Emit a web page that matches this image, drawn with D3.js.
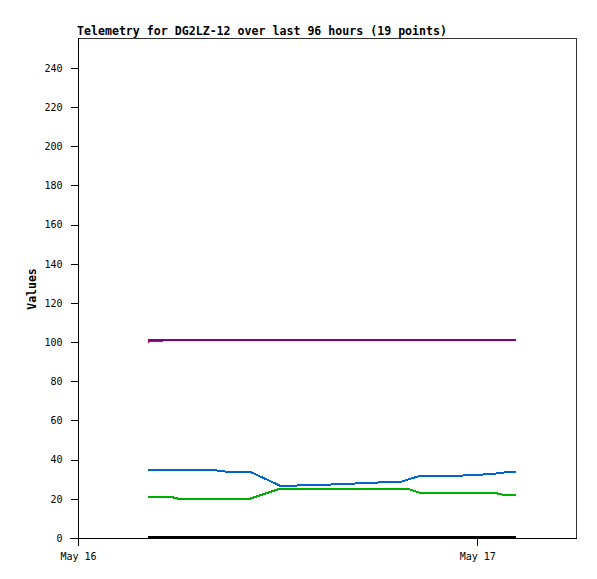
<!DOCTYPE html>
<html><head><meta charset="utf-8">
<script src="https://cdn.jsdelivr.net/npm/d3@7"></script>
<style>body{margin:0;background:#fff}svg{display:block}text{font-family:"DejaVu Sans Mono",monospace}</style>
</head><body><svg id="c" width="597" height="579"></svg>
<script>
// Hours after May 16 00:00
const hours = [4.21,5.53,6.02,8.12,8.96,10.35,12.15,13.17,14.86,16.36,17.86,19.37,19.79,20.57,22.86,24.12,25.02,25.56,26.35];
const seriesRed    = [100.3,101.1,101.1,101.1,101.1,101.1,101.1,101.1,101.1,101.1,101.1,101.1,101.1,101.1,101.1,101.1,101.1,101.1,101.1];
const seriesPurple = [101.1,101.1,101.1,101.1,101.1,101.1,101.1,101.1,101.1,101.1,101.1,101.1,101.1,101.1,101.1,101.1,101.1,101.1,101.1];
const seriesBlue   = [34.7,34.7,34.7,34.7,33.8,33.8,26.7,26.8,27.2,27.7,28.3,28.6,29.7,31.8,31.8,32.3,32.8,33.4,33.9];
const seriesGreen  = [21.1,21.1,20.1,20.1,20.1,20.1,25.2,25.2,25.2,25.2,25.2,25.2,25.2,23.1,23.1,23.1,23.1,22.1,22.1];
const seriesBlack  = [0.6,0.6,0.6,0.6,0.6,0.6,0.6,0.6,0.6,0.6,0.6,0.6,0.6,0.6,0.6,0.6,0.6,0.6,0.6];
const yTicks = [0,20,40,60,80,100,120,140,160,180,200,220,240];
const xTickLabels = ["May 16","May 17"];
const xTickHours = [0,24];
const title = "Telemetry for DG2LZ-12 over last 96 hours (19 points)";

const svg = d3.select("#c");
const L=78,R=577,T=38,B=538;
const x = d3.scaleLinear().domain([0,30]).range([L,R]);
const y = d3.scaleLinear().domain([0,255.3]).range([B,T]);

// frame
svg.append("rect").attr("x",L+0.5).attr("y",T+0.5).attr("width",R-L-1).attr("height",B-T)
  .attr("fill","none").attr("stroke","#333").attr("stroke-width",1).attr("shape-rendering","crispEdges");

const series = [
  {v:seriesBlack,c:"#000000"},
  {v:seriesGreen,c:"#00b000"},
  {v:seriesBlue,c:"#0066cc"},
  {v:seriesRed,c:"#ff0000"},
  {v:seriesPurple,c:"#800080"}
];
const line = d3.line().x((d,i)=>x(hours[i])).y(d=>y(d));
series.forEach(s=>{
  svg.append("path").attr("d",line(s.v)).attr("fill","none").attr("stroke",s.c)
    .attr("stroke-width",2).attr("shape-rendering","crispEdges");
});

// y axis
const yAxis = d3.axisLeft(y).tickValues(yTicks).tickSize(8).tickPadding(8).tickSizeOuter(0);
const ga = svg.append("g").attr("transform",`translate(${L+0.5},0)`).call(yAxis);
ga.selectAll("text").attr("font-size",10).attr("font-family","DejaVu Sans Mono").attr("fill","#000");
ga.selectAll("line,path").attr("stroke","#000").attr("shape-rendering","crispEdges");
ga.select(".domain").attr("d",`M0,${T}V${B}`);

// x axis
const xAxis = d3.axisBottom(x).tickValues(xTickHours).tickFormat((d,i)=>xTickLabels[i]).tickSize(7).tickPadding(7).tickSizeOuter(0);
const gx = svg.append("g").attr("transform",`translate(0,${B+0.5})`).call(xAxis);
gx.selectAll("text").attr("font-size",10).attr("font-family","DejaVu Sans Mono").attr("fill","#000");
gx.selectAll("line,path").attr("stroke","#000").attr("shape-rendering","crispEdges");
gx.select(".domain").attr("d",`M${L-8},0H${R}`);

svg.append("text").attr("x",L-1).attr("y",35).attr("font-size",12.5).attr("font-weight","bold")
  .attr("textLength",370).attr("lengthAdjust","spacingAndGlyphs").text(title);
svg.append("text").attr("transform","translate(36,289) rotate(-90)").attr("text-anchor","middle")
  .attr("font-size",11.5).attr("font-weight","bold").text("Values");
</script></body></html>
